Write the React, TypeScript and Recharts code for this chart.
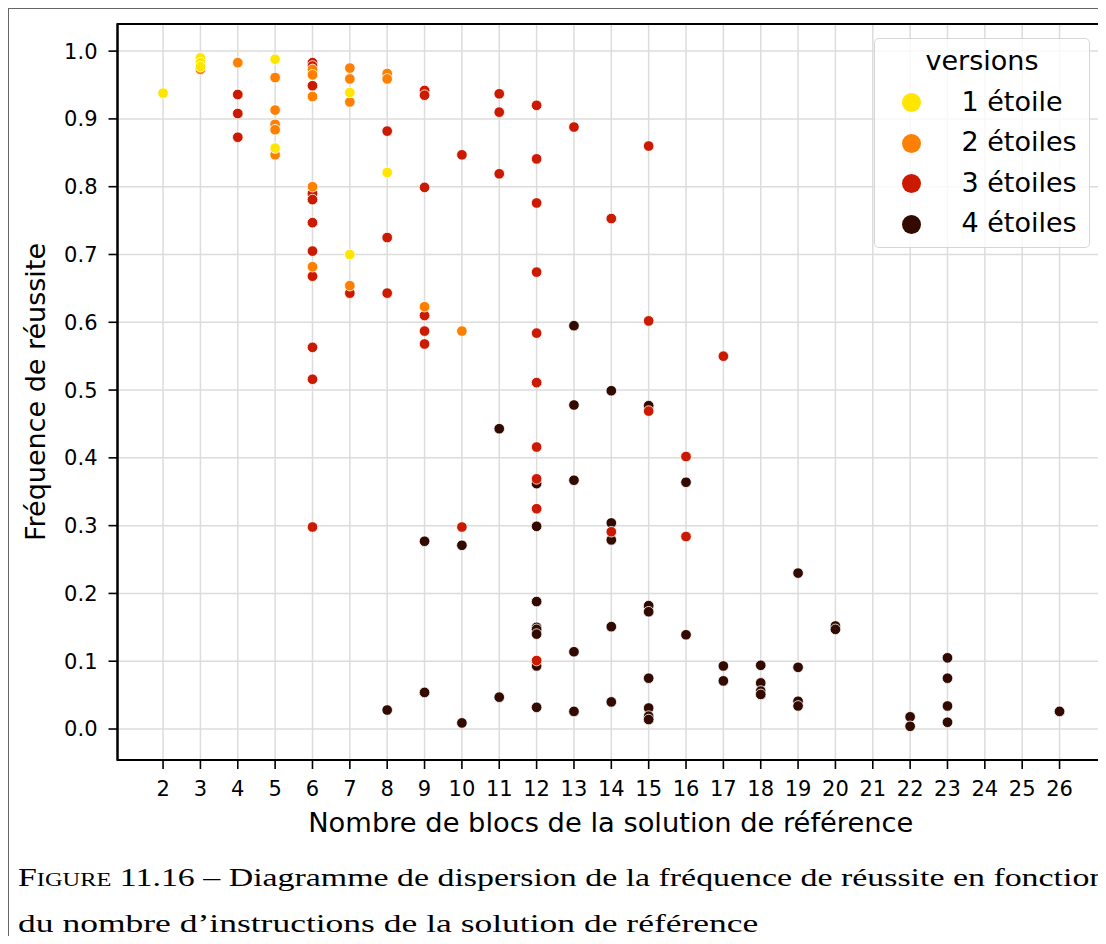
import React from 'react';
import {
  ScatterChart, Scatter, XAxis, YAxis, CartesianGrid, ReferenceArea
} from 'recharts';

document.body.style.overflow = 'hidden';

const X_TICKS = [2, 3, 4, 5, 6, 7, 8, 9, 10, 11, 12, 13, 14, 15, 16, 17, 18, 19, 20, 21, 22, 23, 24, 25, 26];
const Y_TICKS = [0, 0.1, 0.2, 0.3, 0.4, 0.5, 0.6, 0.7, 0.8, 0.9, 1.0];
const X_DOMAIN = [0.78, 27.19];
const Y_DOMAIN = [-0.0457, 1.04];

const VERSIONS = ['1 étoile', '2 étoiles', '3 étoiles', '4 étoiles'];
const COLORS = ['#ffe500', '#ff8000', '#cc1a00', '#330a00'];

// [blocs, fréquence]
const ONE_STAR = [
  [2, 0.938], [3, 0.990], [3, 0.983], [3, 0.977], [5, 0.988], [5, 0.857],
  [7, 0.939], [7, 0.700], [8, 0.821],
];
const TWO_STARS = [
  [3, 0.973], [4, 0.983], [5, 0.961], [5, 0.913], [5, 0.892], [5, 0.884], [5, 0.847],
  [6, 0.973], [6, 0.965], [6, 0.933], [6, 0.800], [6, 0.682],
  [7, 0.975], [7, 0.959], [7, 0.925], [7, 0.654], [8, 0.967], [8, 0.959],
  [9, 0.623], [10, 0.587],
];
const THREE_STARS = [
  [4, 0.936], [4, 0.908], [4, 0.873],
  [6, 0.983], [6, 0.978], [6, 0.949], [6, 0.790], [6, 0.781], [6, 0.747], [6, 0.705],
  [6, 0.668], [6, 0.563], [6, 0.516], [6, 0.298],
  [7, 0.643], [8, 0.882], [8, 0.725], [8, 0.643],
  [9, 0.942], [9, 0.935], [9, 0.799], [9, 0.610], [9, 0.587], [9, 0.568],
  [10, 0.847], [10, 0.298], [11, 0.937], [11, 0.910], [11, 0.819],
  [12, 0.920], [12, 0.841], [12, 0.776], [12, 0.674], [12, 0.584], [12, 0.511],
  [12, 0.416], [12, 0.369], [12, 0.325], [12, 0.101],
  [13, 0.888], [14, 0.753], [14, 0.291], [15, 0.860], [15, 0.602], [15, 0.469],
  [16, 0.402], [16, 0.284], [17, 0.550],
];
const FOUR_STARS = [
  [8, 0.028], [9, 0.277], [9, 0.054], [10, 0.271], [10, 0.009], [11, 0.443], [11, 0.047],
  [12, 0.362], [12, 0.299], [12, 0.188], [12, 0.150], [12, 0.147], [12, 0.140], [12, 0.093], [12, 0.032],
  [13, 0.595], [13, 0.478], [13, 0.367], [13, 0.114], [13, 0.026],
  [14, 0.499], [14, 0.304], [14, 0.279], [14, 0.151], [14, 0.040],
  [15, 0.477], [15, 0.182], [15, 0.173], [15, 0.075], [15, 0.031], [15, 0.019], [15, 0.014],
  [16, 0.364], [16, 0.139], [17, 0.093], [17, 0.071],
  [18, 0.094], [18, 0.068], [18, 0.056], [18, 0.051],
  [19, 0.230], [19, 0.091], [19, 0.041], [19, 0.034],
  [20, 0.152], [20, 0.147], [22, 0.018], [22, 0.004],
  [23, 0.105], [23, 0.075], [23, 0.034], [23, 0.010], [26, 0.026],
];

const SERIES = [ONE_STAR, TWO_STARS, THREE_STARS, FOUR_STARS];

const toPoints = (pts: number[][]) => pts.map(([x, y]) => ({ x, y }));

const FONT = 'DejaVu Sans';

const dot = (color: string) => (props: any) => (
  <circle cx={props.cx} cy={props.cy} r={5.3} fill={color} stroke="#fff" strokeWidth={0.8} />
);

const XLabel = (props: any) => {
  const vb = props.viewBox || { x: 108.5, y: 751, width: 986.5 };
  return (
    <text x={vb.x + vb.width / 2} y={vb.y + 72} textAnchor="middle"
      fontFamily={FONT} fontSize={27.3} fill="#000">
      Nombre de blocs de la solution de référence
    </text>
  );
};

const YLabel = (props: any) => {
  const vb = props.viewBox || { x: 0, y: 15, height: 736 };
  const x = vb.x + 36;
  const y = vb.y + vb.height / 2;
  return (
    <text x={x} y={y} transform={`rotate(-90, ${x}, ${y})`} textAnchor="middle"
      fontFamily={FONT} fontSize={27} fill="#000">
      Fréquence de réussite
    </text>
  );
};

const Legendbox = () => (
  <div style={{
    position: 'absolute', left: 865, top: 29, width: 216, height: 210, boxSizing: 'border-box',
    border: '1.5px solid rgba(204,204,204,0.8)', borderRadius: 5, background: 'rgba(255,255,255,0.8)',
    fontFamily: FONT, fontSize: 27, lineHeight: '27px', color: '#000',
  }}>
    <div style={{ position: 'absolute', top: 8.2, left: 0, width: '100%', textAlign: 'center' }}>versions</div>
    {VERSIONS.map((v, i) => (
      <React.Fragment key={v}>
        <div style={{
          position: 'absolute', left: 27, top: 54 + 40.5 * i, width: 19, height: 19,
          borderRadius: '50%', background: COLORS[i],
        }} />
        <div style={{ position: 'absolute', left: 86.5, top: 48.7 + 40.5 * i, whiteSpace: 'nowrap' }}>{v}</div>
      </React.Fragment>
    ))}
  </div>
);

const captionStyle: React.CSSProperties = {
  position: 'absolute', left: 9, fontFamily: 'Liberation Serif', fontSize: 25, lineHeight: '25px',
  color: '#000', whiteSpace: 'nowrap', transformOrigin: 'left top',
};

export default function App() {
  return (
    <div style={{
      position: 'relative', width: 1098, height: 928, boxSizing: 'border-box',
      borderTop: '1px solid #666', borderLeft: '1px solid #666', overflow: 'hidden', background: '#fff',
    }}>
      <div style={{ position: 'absolute', left: 0, top: 0 }}>
        <ScatterChart width={1097} height={840} margin={{ top: 15, right: 2, bottom: 0, left: 0 }}>
          <CartesianGrid stroke="#dcdcdc" strokeWidth={1.5} />
          <XAxis type="number" dataKey="x" domain={X_DOMAIN} ticks={X_TICKS} allowDataOverflow
            height={89} interval={0}
            axisLine={{ stroke: '#000', strokeWidth: 2 }} tickLine={{ stroke: '#000', strokeWidth: 1.6 }}
            tickSize={9} tickMargin={12}
            tick={{ fontFamily: FONT, fontSize: 21, fill: '#000' }}
            label={{ content: (p: any) => <XLabel {...p} /> }} />
          <YAxis type="number" dataKey="y" domain={Y_DOMAIN} ticks={Y_TICKS} allowDataOverflow
            width={108.5} interval={0}
            tickFormatter={(v: number) => v.toFixed(1)}
            axisLine={{ stroke: '#000', strokeWidth: 2 }} tickLine={{ stroke: '#000', strokeWidth: 1.6 }}
            tickSize={9} tickMargin={11}
            tick={{ fontFamily: FONT, fontSize: 21, fill: '#000' }}
            label={{ content: (p: any) => <YLabel {...p} /> }} />
          <ReferenceArea x1={X_DOMAIN[0]} x2={X_DOMAIN[1]} y1={Y_DOMAIN[0]} y2={Y_DOMAIN[1]}
            fill="none" fillOpacity={0} stroke="#000" strokeWidth={2} ifOverflow="visible" />
          {[3, 2, 1, 0].map((i) => (
            <Scatter key={VERSIONS[i]} name={VERSIONS[i]} data={toPoints(SERIES[i])}
              fill={COLORS[i]} shape={dot(COLORS[i])} isAnimationActive={false} />
          ))}
        </ScatterChart>
      </div>
      <Legendbox />
      <div style={{ ...captionStyle, top: 856, transform: 'scaleX(1.355)' }}>
        <span style={{ fontVariant: 'small-caps' }}>Figure</span> 11.16 – Diagramme de dispersion de la fréquence de réussite en fonction
      </div>
      <div style={{ ...captionStyle, top: 902, transform: 'scaleX(1.42)' }}>
        du nombre d’instructions de la solution de référence
      </div>
    </div>
  );
}
